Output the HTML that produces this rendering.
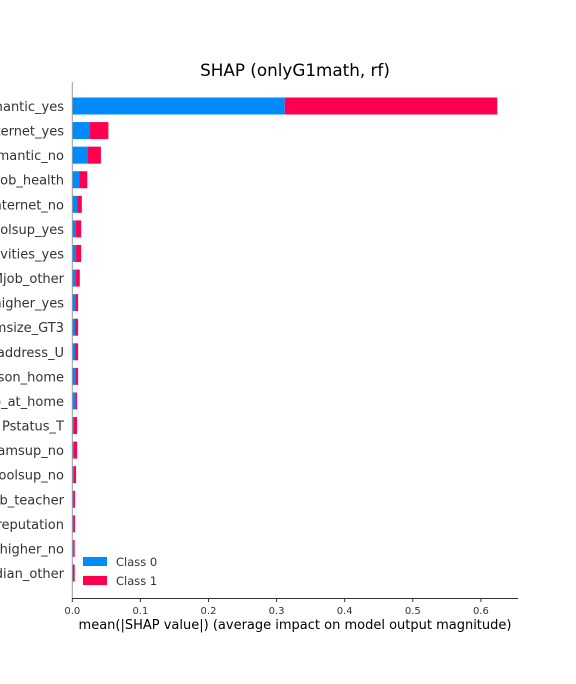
<!DOCTYPE html>
<html><head><meta charset="utf-8"><style>
body{margin:0;background:#fff;}
svg{display:block;font-family:"DejaVu Sans","Liberation Sans",sans-serif;}
</style></head><body>
<svg id="chart" width="576" height="684" viewBox="0 0 576 684">
<text x="295" y="76" text-anchor="middle" font-size="16.8" fill="#000">SHAP (onlyG1math, rf)</text>
<g id="bars"></g>
<g id="ylabels"></g>
<line x1="72.3" y1="82" x2="72.3" y2="598.5" stroke="#999" stroke-width="1"/>
<line x1="72" y1="598.5" x2="518" y2="598.5" stroke="#333" stroke-width="1"/>
<g id="xticks"></g>
<text x="295" y="629" text-anchor="middle" font-size="13" fill="#000">mean(|SHAP value|) (average impact on model output magnitude)</text>
<g>
<rect x="83" y="557" width="24" height="9" fill="#008bfb"/>
<text x="116" y="566" font-size="11.5" fill="#333">Class 0</text>
<rect x="83" y="576" width="24" height="9" fill="#ff0051"/>
<text x="116" y="585" font-size="11.5" fill="#333">Class 1</text>
</g>
</svg>
<script>
const features=["romantic_yes","internet_yes","romantic_no","Mjob_health","internet_no","schoolsup_yes","activities_yes","Mjob_other","higher_yes","famsize_GT3","address_U","reason_home","Mjob_at_home","Pstatus_T","famsup_no","schoolsup_no","Fjob_teacher","reason_reputation","higher_no","guardian_other"];
const class0=[0.312,0.026,0.022,0.010,0.007,0.0055,0.0055,0.0055,0.0045,0.004,0.004,0.0045,0.0045,0.002,0.002,0.002,0.0015,0.0015,0.0015,0.001];
const class1=[0.312,0.027,0.020,0.012,0.007,0.0075,0.0075,0.0055,0.004,0.0045,0.0045,0.004,0.0025,0.005,0.005,0.0035,0.0025,0.0025,0.002,0.0025];
const ticks=[0,0.1,0.2,0.3,0.4,0.5,0.6];
const NS="http://www.w3.org/2000/svg";
const x=v=>72.3+v*681;
const y=i=>106+i*24.58;
const bh=17;
const bars=document.getElementById('bars'),yl=document.getElementById('ylabels'),xt=document.getElementById('xticks');
features.forEach((f,i)=>{
  const r0=document.createElementNS(NS,'rect');
  r0.setAttribute('x',x(0));r0.setAttribute('y',y(i)-bh/2);
  r0.setAttribute('width',x(class0[i])-x(0));r0.setAttribute('height',bh);r0.setAttribute('fill','#008bfb');
  
  
  bars.appendChild(r0);
  const r1=document.createElementNS(NS,'rect');
  r1.setAttribute('x',x(class0[i]));r1.setAttribute('y',y(i)-bh/2);
  r1.setAttribute('width',x(class0[i]+class1[i])-x(class0[i]));r1.setAttribute('height',bh);r1.setAttribute('fill','#ff0051');
  
  
  bars.appendChild(r1);
  const t=document.createElementNS(NS,'text');
  t.setAttribute('x',64);t.setAttribute('y',y(i)+5);t.setAttribute('text-anchor','end');
  t.setAttribute('font-size','13');t.setAttribute('fill','#333');t.textContent=f;
  
  
  yl.appendChild(t);
});
ticks.forEach(v=>{
  const l=document.createElementNS(NS,'line');
  l.setAttribute('x1',x(v));l.setAttribute('x2',x(v));l.setAttribute('y1',598.5);l.setAttribute('y2',602);l.setAttribute('stroke','#333');
  
  
  xt.appendChild(l);
  const t=document.createElementNS(NS,'text');
  t.setAttribute('x',x(v));t.setAttribute('y',614);t.setAttribute('text-anchor','middle');
  t.setAttribute('font-size','10');t.setAttribute('fill','#333');t.textContent=v.toFixed(1);
  
  
  xt.appendChild(t);
});
</script>
</body></html>
